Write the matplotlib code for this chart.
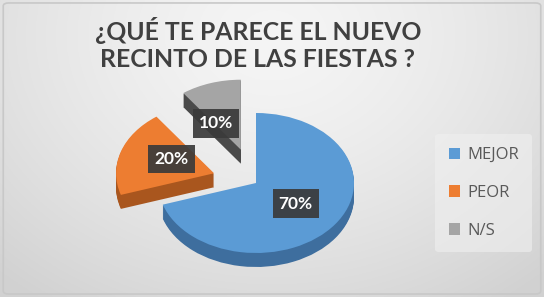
import numpy as np
import matplotlib
matplotlib.use("Agg")
import matplotlib.pyplot as plt
from matplotlib.patches import FancyBboxPatch

# ---- data ----
title = "¿QUÉ TE PARECE EL NUEVO\nRECINTO DE LAS FIESTAS ?"
categories = ["MEJOR", "PEOR", "N/S"]
values = [70, 20, 10]
explode = [0.0, 0.45, 0.5]
top_colors = ["#5B9BD5", "#ED7D31", "#A5A5A5"]
side_colors = ["#3E6E9E", "#A9561E", "#4A4A4A"]

W, H = 544, 297
fig = plt.figure(figsize=(W / 100, H / 100), dpi=100)

# background gradient
bg = fig.add_axes([0, 0, 1, 1])
yy, xx = np.mgrid[0:1:200j, 0:1:300j]
r = np.sqrt(((xx - 0.5) / 0.75) ** 2 + ((yy - 0.12) / 1.1) ** 2)
shade = 0.96 - 0.14 * np.clip(r, 0, 1) ** 1.5
bg.imshow(np.dstack([shade] * 3), extent=[0, 1, 0, 1], aspect="auto", origin="upper")
bg.add_patch(FancyBboxPatch((0.006, 0.01), 0.988, 0.98, boxstyle="round,pad=0,rounding_size=0.01",
                            fill=False, ec="#c8c8c8", lw=1.2, transform=bg.transAxes))
bg.set_xlim(0, 1); bg.set_ylim(0, 1)
bg.axis("off")

# pie axes: squashed to look like a 3D tilted pie
ax = fig.add_axes([0, 0, 1, 1])
ax.axis("off")
cx, cy = 256, H - 183      # pixels
rx, ry = 98, 70
depth = 14
nlayers = 14
for k in range(nlayers, 0, -1):
    off = depth * k / nlayers / ry
    ax.pie(values, explode=explode, colors=side_colors, startangle=90, counterclock=False,
           center=(0, -off), radius=1.0, wedgeprops=dict(linewidth=0))
wedges, texts, autotexts = ax.pie(
    values, explode=explode, colors=top_colors, startangle=90, counterclock=False,
    center=(0, 0), radius=1.0, autopct="%d%%", pctdistance=0.5,
    wedgeprops=dict(linewidth=0),
    textprops=dict(color="white", fontsize=12.5, fontweight="bold", family="Lato"))
for t in autotexts:
    t.set_bbox(dict(boxstyle="square,pad=0.35", fc="#3a3a3a", ec="none", alpha=0.92))
autotexts[2].set_position((autotexts[2].get_position()[0] - 0.1, autotexts[2].get_position()[1] - 0.1))
autotexts[1].set_position((autotexts[1].get_position()[0] + 0.04, autotexts[1].get_position()[1] + 0.05))
ax.set_aspect("auto")
# map pixel geometry: x units = rx px, y units = ry px
ax.set_xlim(-cx / rx, (W - cx) / rx)
ax.set_ylim(-cy / ry, (H - cy) / ry)

# title
fig.text(258 / W, 1 - 44 / H, title, ha="center", va="center", fontsize=17.8,
         fontweight="bold", color="#404040", family="Lato", linespacing=1.2)

# legend
leg = fig.legend(wedges, categories, loc="center left", bbox_to_anchor=(427 / W, 1 - 193 / H),
                 frameon=True, handlelength=0.7, handleheight=0.7,
                 handletextpad=0.4, labelspacing=1.3, borderpad=0.8, prop=dict(family="Open Sans", size=12))
leg.get_frame().set_facecolor("#f0f0f0")
leg.get_frame().set_edgecolor("none")
leg.get_frame().set_alpha(0.6)
for t in leg.get_texts():
    t.set_color("#595959")

fig.savefig("out.png", dpi=100)
